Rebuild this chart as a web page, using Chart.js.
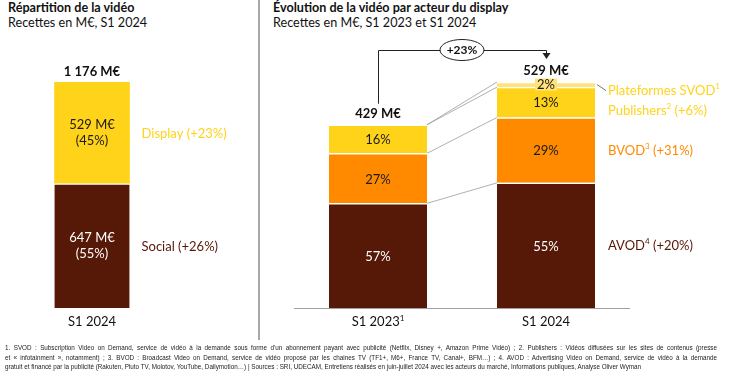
<!DOCTYPE html>
<html><head><meta charset="utf-8">
<script src="https://cdn.jsdelivr.net/npm/chart.js@4/dist/chart.umd.min.js"></script>
<style>
html,body{margin:0;padding:0;background:#fff;}
body{width:752px;height:381px;position:relative;overflow:hidden;font-family:Lato,"Open Sans",sans-serif;color:#111;}
.t{position:absolute;white-space:nowrap;}
.title{font-weight:700;font-size:12.6px;}
.sub{font-size:12.6px;}
#divider{position:absolute;left:258px;top:0;width:2px;height:340px;background:#a8a8a8;}
#leftWrap{position:absolute;left:0;top:0;width:258px;height:381px;}
#rightWrap{position:absolute;left:260px;top:0;width:492px;height:381px;}
.foot{position:absolute;left:5px;width:712px;font-family:"Liberation Sans Narrow","Liberation Sans",sans-serif;font-size:6.3px;line-height:8px;color:#222;white-space:nowrap;}
.just{text-align:justify;text-align-last:justify;white-space:normal;}
</style></head>
<body>
<div class="t title" style="left:8px;top:0px;">Répartition de la vidéo</div>
<div class="t sub" style="left:8px;top:15px;">Recettes en M€, S1 2024</div>
<div class="t title" style="left:273px;top:0px;">Évolution de la vidéo par acteur du display</div>
<div class="t sub" style="left:273px;top:15px;">Recettes en M€, S1 2023 et S1 2024</div>
<div id="divider"></div>
<div id="leftWrap"><canvas id="left" width="258" height="381"></canvas></div>
<div id="rightWrap"><canvas id="right" width="492" height="381"></canvas></div>
<div class="foot just" style="top:344px;">1. SVOD : Subscription Video on Demand, service de vidéo à la demande sous forme d'un abonnement payant avec publicité (Netflix, Disney +, Amazon Prime Vidéo) ; 2. Publishers : Vidéos diffusées sur les sites de contenus (presse</div>
<div class="foot just" style="top:353.5px;">et « infotainment », notamment) ; 3. BVOD : Broadcast Video on Demand, service de vidéo proposé par les chaines TV (TF1+, M6+, France TV, Canal+, BFM…) ; 4. AVOD : Advertising Video on Demand, service de vidéo à la demande</div>
<div class="foot" style="top:363px;">gratuit et financé par la publicité (Rakuten, Pluto TV, Molotov, YouTube, Dailymotion…) | Sources : SRI, UDECAM, Entretiens réalisés en juin-juillet 2024 avec les acteurs du marché, Informations publiques, Analyse Oliver Wyman</div>
<script>
// ---- Data ----
const leftCategories = ['S1 2024'];
const socialValues = [647];
const displayValues = [529];
const leftSeriesNames = ['Social (+26%)', 'Display (+23%)'];

const rightCategories = ['S1 2023', 'S1 2024'];
const rightCategoryNotes = ['1', ''];
const avodValues = [245, 293];
const bvodValues = [117, 153];
const publishersValues = [67, 71];
const svodValues = [null, 12];
const rightSeriesNames = ['AVOD', 'BVOD', 'Publishers', 'Plateformes SVOD'];
const rightSeriesNotes = ['4', '3', '2', '1'];
const rightSeriesGrowth = [' (+20%)', ' (+31%)', ' (+6%)', ''];
const totalGrowthLabel = '+23%';

// ---- Styles ----
const BROWN = '#561807', ORANGE = '#ff8a00', YELLOW = '#ffd31a', LIGHT = '#ffe37a';
const FONT = 'Lato, "Open Sans", sans-serif';
Chart.defaults.font.family = FONT;

function fmtM(v){ return String(v).replace(/\B(?=(\d{3})+(?!\d))/g, ' ') + ' M€'; }

function drawRich(ctx, parts, x, y, size, color, weight, align){
  ctx.save();
  ctx.fillStyle = color; ctx.textBaseline = 'middle';
  const w = parts.map(p => { ctx.font = (weight||'400') + ' ' + (p.sup ? size*0.62 : size) + 'px ' + FONT; return ctx.measureText(p.t).width; });
  const total = w.reduce((a,b)=>a+b,0);
  let cx = align === 'center' ? x - total/2 : x;
  parts.forEach((p,i)=>{
    ctx.font = (weight||'400') + ' ' + (p.sup ? size*0.62 : size) + 'px ' + FONT;
    ctx.textAlign = 'left';
    ctx.fillText(p.t, cx, p.sup ? y - size*0.3 : y);
    cx += w[i];
  });
  ctx.restore();
}

// ---- Left chart ----
const leftPlugin = {
  id: 'leftLabels',
  afterDatasetsDraw(chart){
    const ctx = chart.ctx;
    const m0 = chart.getDatasetMeta(0), m1 = chart.getDatasetMeta(1);
    leftCategories.forEach((cat, j) => {
      const total = socialValues[j] + displayValues[j];
      const segs = [
        {el: m0.data[j], v: socialValues[j], col: '#fff', name: leftSeriesNames[0], nameCol: BROWN},
        {el: m1.data[j], v: displayValues[j], col: '#1a1a1a', name: leftSeriesNames[1], nameCol: YELLOW}
      ];
      segs.forEach(s => {
        const cy = (s.el.y + s.el.base) / 2;
        ctx.save();
        ctx.fillStyle = s.col; ctx.textAlign = 'center'; ctx.textBaseline = 'middle';
        ctx.font = '13px ' + FONT;
        ctx.fillText(fmtM(s.v), s.el.x, cy - 8);
        ctx.fillText('(' + Math.round(s.v / total * 100) + '%)', s.el.x, cy + 8);
        ctx.restore();
        drawRich(ctx, [{t: s.name}], s.el.x + s.el.width/2 + 12, cy + 1, 13, s.nameCol, '400', 'left');
      });
      const top = m1.data[j];
      drawRich(ctx, [{t: fmtM(total)}], top.x, top.y - 10, 13, '#111', '700', 'center');
      drawRich(ctx, [{t: cat}], top.x, chart.chartArea.bottom + 14, 13, '#111', '400', 'center');
    });
  }
};

new Chart(document.getElementById('left'), {
  type: 'bar',
  data: {
    labels: leftCategories,
    datasets: [
      {label: 'Social', data: socialValues, backgroundColor: BROWN, borderColor: '#fff', borderWidth: {top: 1.5, left: 0, right: 0, bottom: 0}, borderSkipped: false, barThickness: 75},
      {label: 'Display', data: displayValues, backgroundColor: YELLOW, borderColor: '#fff', borderWidth: 0, barThickness: 75}
    ]
  },
  options: {
    responsive: false, animation: false, devicePixelRatio: 1,
    layout: {padding: {left: 20, right: 94, top: 82, bottom: 73}},
    plugins: {legend: {display: false}, tooltip: {enabled: false}},
    scales: {
      x: {display: false, stacked: true},
      y: {display: false, stacked: true, min: 0, max: socialValues[0] + displayValues[0]}
    }
  },
  plugins: [leftPlugin]
});

// ---- Right chart ----
const rightSeries = [avodValues, bvodValues, publishersValues, svodValues];
const rightColors = [BROWN, ORANGE, YELLOW, LIGHT];
const rightTextColors = ['#fff', '#1a1a1a', '#1a1a1a', '#1a1a1a'];
const rightNameColors = [BROWN, ORANGE, YELLOW, YELLOW];
const rightTotals = rightCategories.map((_, j) => rightSeries.reduce((a, s) => a + (s[j] || 0), 0));

const rightPlugin = {
  id: 'rightLabels',
  beforeDatasetsDraw(chart){
    const ctx = chart.ctx, a = chart.chartArea;
    ctx.save();
    ctx.strokeStyle = '#a0a0a0'; ctx.lineWidth = 1.2;
    ctx.beginPath(); ctx.moveTo(a.left, a.bottom + 0.5); ctx.lineTo(a.right, a.bottom + 0.5); ctx.stroke();
    ctx.restore();
  },
  afterDatasetsDraw(chart){
    const ctx = chart.ctx, ys = chart.scales.y, a = chart.chartArea;
    const metas = rightSeries.map((_, i) => chart.getDatasetMeta(i));
    const b0 = metas[0].data[0], b1 = metas[0].data[1];
    // connectors
    let c0 = 0, c1 = 0;
    ctx.save();
    ctx.strokeStyle = '#9c9c9c'; ctx.lineWidth = 0.8;
    rightSeries.forEach((s) => {
      c0 += s[0] || 0; c1 += s[1] || 0;
      ctx.beginPath();
      ctx.moveTo(b0.x + b0.width/2, ys.getPixelForValue(c0));
      ctx.lineTo(b1.x - b1.width/2, ys.getPixelForValue(c1));
      ctx.stroke();
    });
    ctx.restore();
    // segment labels
    rightSeries.forEach((s, i) => {
      rightCategories.forEach((cat, j) => {
        if (!s[j]) return;
        const el = metas[i].data[j];
        const cy = (el.y + el.base) / 2;
        const txt = Math.round(s[j] / rightTotals[j] * 100) + '%';
        if (i === 3) {
          ctx.save(); ctx.fillStyle = LIGHT; ctx.fillRect(el.x - 11, cy - 6, 22, 12); ctx.restore();
        }
        ctx.save();
        ctx.fillStyle = rightTextColors[i]; ctx.textAlign = 'center'; ctx.textBaseline = 'middle';
        ctx.font = '13px ' + FONT;
        ctx.fillText(txt, el.x, cy + (i === 3 ? 0 : 1));
        ctx.restore();
      });
    });
    // series names next to last bar
    const lastJ = rightCategories.length - 1;
    const nameOffsets = [0, 0.5, 8.5, 6];
    rightSeries.forEach((s, i) => {
      const el = metas[i].data[lastJ];
      const cy = (el.y + el.base) / 2 + nameOffsets[i];
      const x = el.x + el.width/2 + 13;
      drawRich(ctx, [{t: rightSeriesNames[i]}, {t: rightSeriesNotes[i], sup: true}, {t: rightSeriesGrowth[i]}], x, cy, 13, rightNameColors[i], '400', 'left');
      if (i === 3) {
        ctx.save(); ctx.strokeStyle = '#555'; ctx.lineWidth = 0.8;
        ctx.beginPath(); ctx.moveTo(el.x + el.width/2 + 2, (el.y + el.base)/2); ctx.lineTo(x - 2, cy); ctx.stroke(); ctx.restore();
      }
    });
    // totals and categories
    const tops = rightCategories.map((_, j) => ys.getPixelForValue(rightTotals[j]));
    rightCategories.forEach((cat, j) => {
      drawRich(ctx, [{t: fmtM(rightTotals[j])}], metas[0].data[j].x, tops[j] - 11, 13, '#111', '700', 'center');
      drawRich(ctx, [{t: cat}, {t: rightCategoryNotes[j], sup: true}], metas[0].data[j].x, a.bottom + 14, 13, '#111', '400', 'center');
    });
    // growth arrow
    const yTop = tops[1] - 32;
    ctx.save();
    ctx.strokeStyle = '#222'; ctx.lineWidth = 1;
    ctx.beginPath();
    ctx.moveTo(b0.x + 0.5, tops[0] - 21);
    ctx.lineTo(b0.x + 0.5, yTop + 0.5);
    ctx.lineTo(b1.x + 0.5, yTop + 0.5);
    ctx.lineTo(b1.x + 0.5, tops[1] - 28);
    ctx.stroke();
    ctx.fillStyle = '#222';
    ctx.beginPath();
    ctx.moveTo(b1.x + 0.5 - 4, tops[1] - 29);
    ctx.lineTo(b1.x + 0.5 + 4, tops[1] - 29);
    ctx.lineTo(b1.x + 0.5, tops[1] - 23);
    ctx.closePath(); ctx.fill();
    const mx = (b0.x + b1.x) / 2;
    ctx.beginPath(); ctx.ellipse(mx, yTop, 22, 10.5, 0, 0, Math.PI * 2);
    ctx.fillStyle = '#fff'; ctx.fill(); ctx.stroke();
    ctx.restore();
    drawRich(ctx, [{t: totalGrowthLabel}], mx, yTop + 0.5, 12, '#111', '700', 'center');
  }
};

new Chart(document.getElementById('right'), {
  type: 'bar',
  data: {
    labels: rightCategories,
    datasets: rightSeries.map((s, i) => ({
      label: rightSeriesNames[i], data: s, backgroundColor: rightColors[i],
      borderColor: '#fff', borderWidth: {top: 1.5, left: 0, right: 0, bottom: 0}, borderSkipped: false,
      barThickness: 98
    }))
  },
  options: {
    responsive: false, animation: false, devicePixelRatio: 1,
    layout: {padding: {left: 34, right: 122, top: 82, bottom: 73}},
    plugins: {legend: {display: false}, tooltip: {enabled: false}},
    scales: {
      x: {display: false, stacked: true},
      y: {display: false, stacked: true, min: 0, max: Math.max(...rightTotals)}
    }
  },
  plugins: [rightPlugin]
});
</script>
</body></html>
